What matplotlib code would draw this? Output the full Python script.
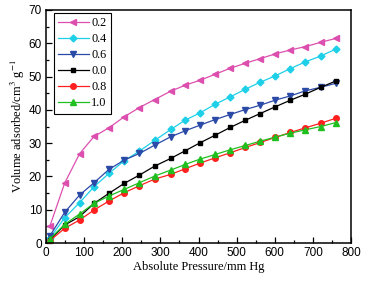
import numpy as np
import matplotlib
matplotlib.use("Agg")
from matplotlib import pyplot as plt
from matplotlib.ticker import MultipleLocator

# pressure points (mm Hg)
pressure = [10, 49, 88, 126, 165, 205, 245, 285, 327, 365,
            404, 444, 483, 523, 562, 601, 641, 680, 721, 761]

# adsorbed volume per series (cm3/g)
v_02 = [5.0, 18.0, 26.8, 32.0, 34.6, 37.9, 40.7, 43.1, 45.6, 47.4,
        48.9, 50.7, 52.5, 54.0, 55.4, 56.8, 58.0, 59.0, 60.3, 61.5]
v_04 = [1.4, 7.6, 12.1, 16.9, 20.9, 24.7, 27.6, 30.8, 34.1, 36.9,
        39.1, 41.7, 43.9, 46.2, 48.3, 50.2, 52.4, 54.4, 56.2, 58.3]
v_06 = [2.1, 9.2, 14.4, 18.1, 22.1, 24.9, 26.9, 29.4, 31.9, 33.7,
        35.4, 37.1, 38.6, 40.1, 41.4, 42.9, 44.2, 45.7, 46.8, 48.0]
v_00 = [0.9, 5.4, 7.9, 11.9, 14.9, 17.9, 20.4, 23.1, 25.4, 27.7,
        30.1, 32.4, 34.7, 36.9, 38.9, 40.9, 42.9, 44.7, 46.8, 48.7]
v_08 = [0.7, 4.4, 6.9, 9.9, 12.6, 15.1, 17.2, 19.2, 20.6, 22.3,
        24.0, 25.6, 27.1, 28.7, 30.2, 31.7, 33.2, 34.6, 36.0, 37.5]
v_10 = [1.2, 5.6, 8.7, 11.9, 14.1, 16.1, 18.1, 20.1, 21.9, 23.6,
        25.2, 26.6, 28.0, 29.3, 30.6, 31.8, 33.0, 34.0, 35.0, 36.2]

labels = ["0.2", "0.4", "0.6", "0.0", "0.8", "1.0"]
series = [v_02, v_04, v_06, v_00, v_08, v_10]
colors = ["#DD4FAF", "#1ECFE8", "#2B4AA8", "#000000", "#FF1F1F", "#1FBF1F"]
markers = ["<", "D", "v", "s", "o", "^"]
sizes = [4.5, 3.5, 4.5, 3.5, 4, 4.5]

serif = ["Liberation Serif", "DejaVu Serif"]
sans = ["Liberation Sans", "DejaVu Sans"]
plt.rcParams["mathtext.fontset"] = "stix"

fig = plt.figure(figsize=(3.69, 2.81), dpi=100)
ax = fig.add_axes([46 / 369, 1 - 243 / 281, 305 / 369, 233 / 281])

for y, lab, c, m, ms in zip(series, labels, colors, markers, sizes):
    ax.plot(pressure, y, color=c, marker=m, markersize=ms, linewidth=0.9, label=lab)

ax.set_xlim(0, 800)
ax.set_ylim(0, 70)
ax.xaxis.set_major_locator(MultipleLocator(100))
ax.xaxis.set_minor_locator(MultipleLocator(50))
ax.yaxis.set_major_locator(MultipleLocator(10))
ax.yaxis.set_minor_locator(MultipleLocator(5))
ax.tick_params(which="both", direction="in", top=False, right=False, width=0.9)
ax.tick_params(which="major", length=4, labelsize=8.5, pad=3)
ax.tick_params(which="minor", length=2)
for t in ax.get_xticklabels() + ax.get_yticklabels():
    t.set_family(sans)
for s in ax.spines.values():
    s.set_linewidth(1.1)

ax.set_xlabel("Absolute Pressure/mm Hg", family=serif, fontsize=9, labelpad=1)
ax.set_ylabel("Volume adsorbed/cm$^3$ g$^{-1}$", family=serif, fontsize=9, labelpad=1)

leg = ax.legend(loc="upper left", prop={"family": serif, "size": 8.8}, fancybox=False,
                edgecolor="black", framealpha=1, handlelength=2.5, labelspacing=0.33,
                borderpad=0.35, handletextpad=0.2, borderaxespad=0,
                bbox_to_anchor=(0.026, 0.988))
leg.get_frame().set_linewidth(0.8)

fig.savefig("out.png", dpi=100)
